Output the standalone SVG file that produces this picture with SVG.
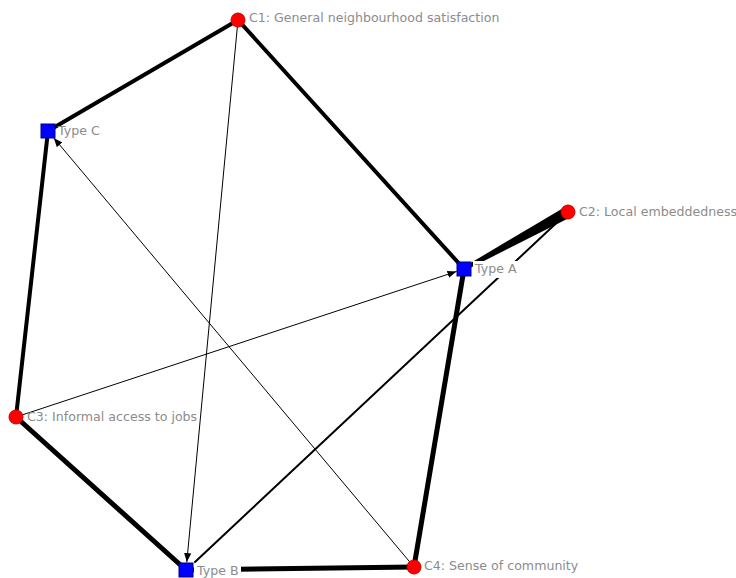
<svg xmlns="http://www.w3.org/2000/svg" width="736" height="578" viewBox="0 0 736 578">
<defs>
<style>
.e{stroke:#000;fill:none;stroke-linecap:round}
.t1{stroke-width:1}
.t4{stroke-width:4}
.t5{stroke-width:5}
.c{fill:#ff0000;stroke:#cc0000;stroke-width:1}
.s{fill:#0000ff;stroke:#000080;stroke-width:1}
.bg{fill:#fff}
.l{font-family:"DejaVu Sans",Verdana,sans-serif;font-size:12.6px;fill:#8c8c8c}
</style>
<marker id="arr" viewBox="0 0 10 10" refX="10" refY="5" markerWidth="9" markerHeight="9" markerUnits="userSpaceOnUse" orient="auto">
<path d="M0,1 L10,5 L0,9 Z" fill="#000"/>
</marker>
</defs>
<rect width="736" height="578" fill="#fff"/>
<g id="edges">
<line class="e t4" x1="238" y1="20" x2="48" y2="131"/>
<line class="e t4" x1="238" y1="20" x2="464" y2="269"/>
<line class="e t1" x1="238" y1="20" x2="186.8" y2="562" marker-end="url(#arr)"/>
<line class="e t4" x1="48" y1="131" x2="16" y2="417"/>
<line class="e t1" x1="414" y1="567" x2="53.8" y2="137.9" marker-end="url(#arr)"/>
<line class="e t1" x1="16" y1="417" x2="456.4" y2="271.5" marker-end="url(#arr)"/>
<line class="e t5" x1="16" y1="417" x2="186" y2="570"/>
<polygon points="465,270.5 463,267.5 565,207 571,217" fill="#000"/>
<line class="e" stroke-width="2" x1="195" y1="562" x2="566" y2="214"/>
<line class="e t5" x1="464" y1="269" x2="414" y2="567"/>
<line class="e t5" x1="186" y1="570" x2="414" y2="567"/>
</g>
<g id="C1"><circle class="c" cx="238" cy="20" r="7"/><text class="l" x="249" y="22">C1: General neighbourhood satisfaction</text></g>
<g id="TypeC"><rect class="s" x="41" y="124" width="14" height="14"/><text class="l" x="58" y="135">Type C</text></g>
<g id="C2"><circle class="c" cx="568" cy="212" r="7"/><text class="l" x="579" y="216">C2: Local embeddedness</text></g>
<g id="TypeA"><rect class="bg" x="473" y="261" width="48" height="17"/><rect class="s" x="457" y="262" width="14" height="14"/><text class="l" x="475" y="273">Type A</text></g>
<g id="C3"><circle class="c" cx="16" cy="417" r="7"/><text class="l" x="27" y="421">C3: Informal access to jobs</text></g>
<g id="TypeB"><rect class="bg" x="194" y="563" width="47" height="15"/><rect class="s" x="179" y="563" width="14" height="14"/><text class="l" x="197" y="575">Type B</text></g>
<g id="C4"><circle class="c" cx="414" cy="567" r="7"/><text class="l" x="424" y="570">C4: Sense of community</text></g>
</svg>
